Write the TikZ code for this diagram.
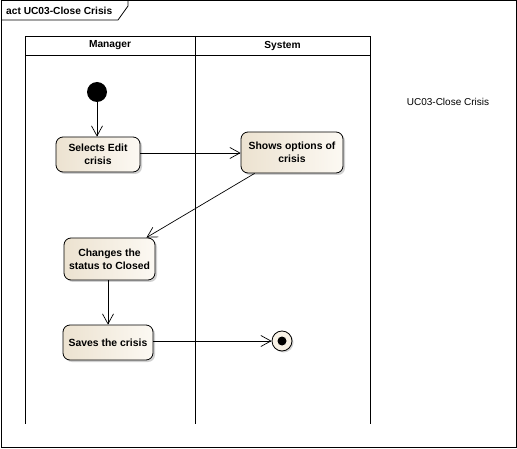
\documentclass[tikz,border=0pt]{standalone}
\usepackage{fontspec}
\setmainfont{Liberation Sans}
\usetikzlibrary{arrows.meta,shadows,calc}
\definecolor{boxL}{RGB}{236,226,208}
\definecolor{boxR}{RGB}{252,249,243}
\definecolor{finfill}{RGB}{248,242,230}
\tikzset{
  action/.style={draw, line width=0.8pt, rounded corners=7pt, left color=boxL, right color=boxR,
    align=center, font=\fontsize{10.4}{12.8}\selectfont\bfseries, inner sep=2pt,
    drop shadow={shadow xshift=2pt, shadow yshift=-2pt, fill=black!30, opacity=0.6}},
  flow/.style={draw, line width=0.7pt, -{Straight Barb[length=10pt,width=11pt,line width=0.7pt]}},
  lane/.style={draw, line width=0.9pt},
  hdr/.style={font=\fontsize{10.2}{12}\selectfont\bfseries}
}
\begin{document}
\begin{tikzpicture}[x=1pt,y=-1pt]
\useasboundingbox (0,0) rectangle (517,449);
% frame
\draw[line width=1pt] (1,1) rectangle (516,447);
\draw[line width=0.8pt] (1,20) -- (118,20) -- (128,6) -- (128,1);
\node[anchor=west, hdr, inner sep=0pt] (title) at (6,11) {act UC03-Close Crisis};
% swimlanes
\draw[lane] (25,36) rectangle (370,55);
\draw[lane] (25,55) -- (25,424);
\draw[lane] (195,36) -- (195,424);
\draw[lane] (370,55) -- (370,424);
\node[hdr] (mgr) at (110,45.5) {Manager};
\node[hdr] (sys) at (282.5,45.5) {System};
% note text
\node[font=\fontsize{10}{12}\selectfont] (lbl) at (448,102) {UC03-Close Crisis};
% nodes
\node[circle, fill=black, minimum size=20pt, inner sep=0pt] (init) at (97,92) {};
\node[action, minimum width=84pt, minimum height=35pt] (sel) at (98,154.5) {Selects Edit\\crisis};
\node[action, minimum width=102pt, minimum height=41pt] (show) at (292,152.5) {Shows options of\\crisis};
\node[action, minimum width=91pt, minimum height=42pt] (chg) at (109.5,259) {Changes the\\status to Closed};
\node[action, minimum width=90pt, minimum height=35pt] (save) at (108,342.5) {Saves the crisis};
\node[circle, draw, line width=0.8pt, fill=finfill, minimum size=20pt, inner sep=0pt,
  drop shadow={shadow xshift=1.5pt, shadow yshift=-1.5pt, fill=black!30, opacity=0.6}] (fin) at (282,341) {};
\node[circle, fill=black, minimum size=9pt, inner sep=0pt] (findot) at (fin.center) {};
% flows
\draw[flow] (init) -- (init |- sel.north);
\draw[flow] (sel.east |- 0,153) -- (show.west |- 0,153);
\draw[flow] ($(show.south west)+(14,0)$) -- ($(chg.north east)+(-9,0)$);
\draw[flow] (chg.south -| 108,0) -- (save.north -| 108,0);
\draw[flow] (save.east |- fin.center) -- (fin.west);
\end{tikzpicture}
\end{document}
